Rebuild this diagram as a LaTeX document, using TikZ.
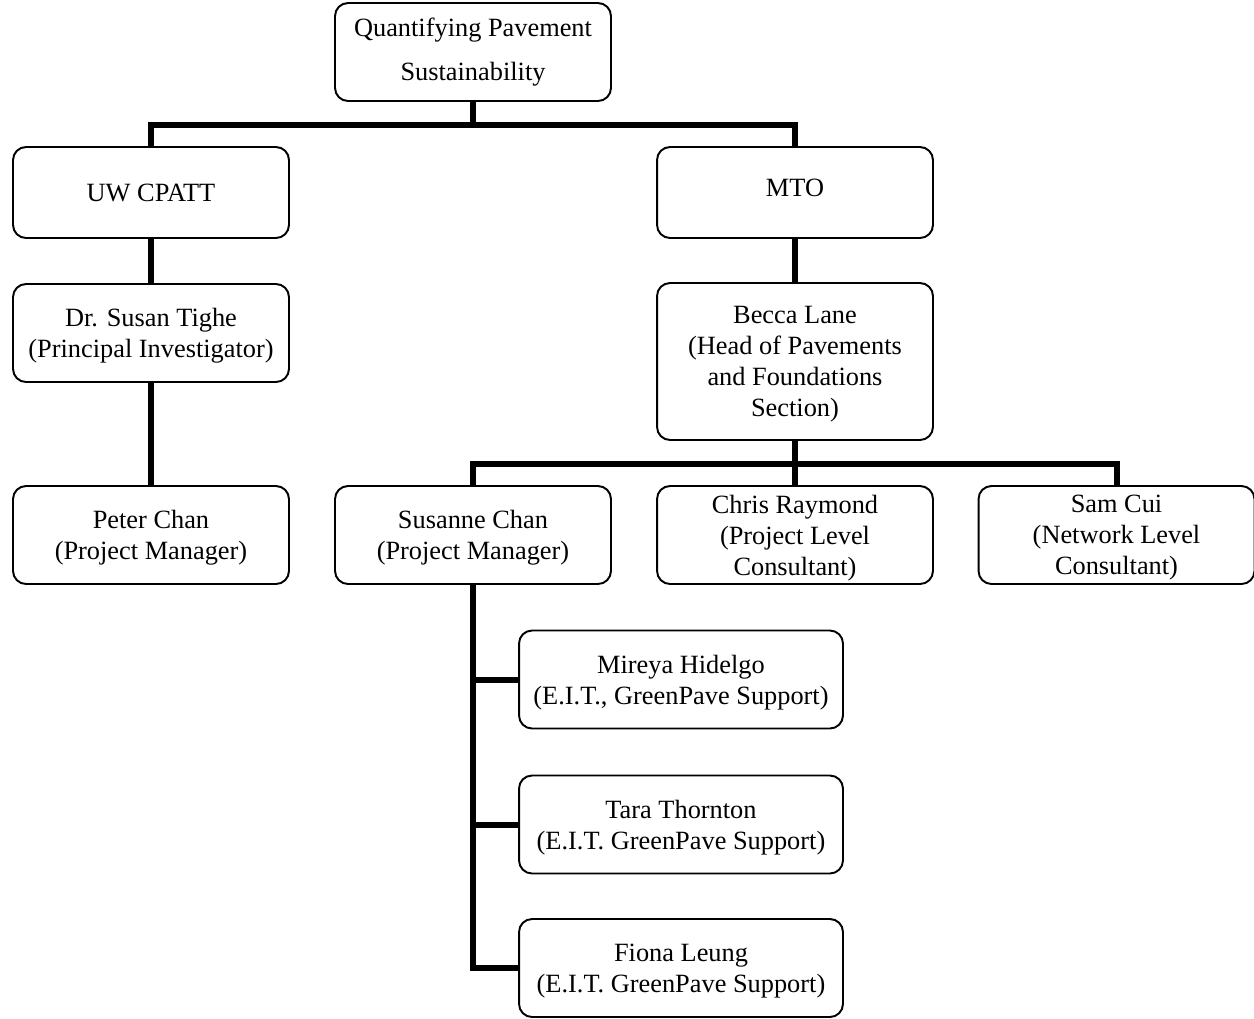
\documentclass[tikz,border=0pt]{standalone}
\usepackage{fontspec}
\setmainfont{Liberation Serif}
\usetikzlibrary{positioning}

\begin{document}
\begin{tikzpicture}[x=0.02cm, y=-0.02cm,
  orgbox/.style={draw, line width=1.1pt, rounded corners=0.26cm, align=center,
    inner sep=0pt, minimum width=5.52cm, minimum height=1.96cm,
    font=\fontsize{15}{17.6}\selectfont},
  personbox/.style={orgbox, text depth=-0.1cm},
  widebox/.style={personbox, minimum width=6.48cm},
  conn/.style={line width=0.12cm}]

\useasboundingbox (0,0) rectangle (1254,1018);

% top level
\node[orgbox, font=\fontsize{15}{25}\selectfont] (top) at (473,52)
  {Quantifying Pavement\\Sustainability};
\node[orgbox, minimum height=1.82cm] (uw) at (151,192.5) {UW CPATT};
\node[orgbox, minimum height=1.82cm, text depth=0.2cm] (mto) at (795,192.5) {MTO};

% second level
\node[personbox] (tighe) at (151,333) {Dr. Susan Tighe\\(Principal Investigator)};
\node[personbox, minimum height=3.14cm] (lane) at (795,361.5)
  {Becca Lane\\(Head of Pavements\\and Foundations\\Section)};

% third level
\node[personbox] (peter) at (151,535) {Peter Chan\\(Project Manager)};
\node[personbox] (susanne) at (473,535) {Susanne Chan\\(Project Manager)};
\node[personbox] (chris) at (795,535) {Chris Raymond\\(Project Level\\Consultant)};
\node[personbox] (sam) at (1116.5,535) {Sam Cui\\(Network Level\\Consultant)};

% support staff
\node[widebox] (mireya) at (681,679.5) {Mireya Hidelgo\\(E.I.T., GreenPave Support)};
\node[widebox] (tara) at (681,824.5) {Tara Thornton\\(E.I.T. GreenPave Support)};
\node[widebox] (fiona) at (681,968) {Fiona Leung\\(E.I.T. GreenPave Support)};

% connectors
\coordinate (bar1) at ([yshift=-0.46cm]top.south);
\coordinate (bar2) at ([yshift=-0.46cm]lane.south);

\draw[conn] (top.south) -- (bar1);
\draw[conn] (uw.north) |- (bar1) -| (mto.north);
\draw[conn] (uw.south) -- (tighe.north);
\draw[conn] (tighe.south) -- (peter.north);
\draw[conn] (mto.south) -- (lane.south |- lane.north);
\draw[conn] (lane.south) -- (chris.north);
\draw[conn] (susanne.north) |- (bar2) -| (sam.north);
\draw[conn] (susanne.south) |- (fiona.west);
\draw[conn] (mireya.west) -- (mireya.west -| susanne.south);
\draw[conn] (tara.west) -- (tara.west -| susanne.south);

\end{tikzpicture}
\end{document}
